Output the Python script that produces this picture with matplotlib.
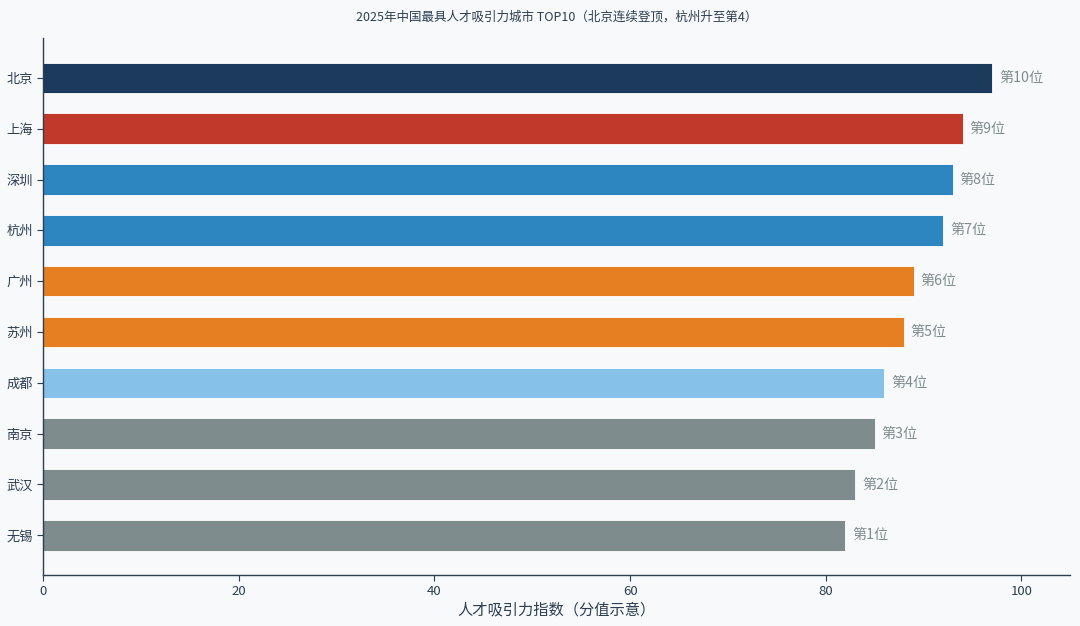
import matplotlib
matplotlib.use("Agg")
import matplotlib.pyplot as plt

plt.rcParams["font.family"] = ["Noto Sans CJK SC", "DejaVu Sans"]

cities = ["北京", "上海", "深圳", "杭州", "广州", "苏州", "成都", "南京", "武汉", "无锡"]
scores = [97, 94, 93, 92, 89, 88, 86, 85, 83, 82]
ranks = ["第10位", "第9位", "第8位", "第7位", "第6位", "第5位", "第4位", "第3位", "第2位", "第1位"]
colors = ["#1b3a5c", "#c0392b", "#2e86c1", "#2e86c1", "#e67e22",
          "#e67e22", "#85c1e9", "#7f8c8d", "#7f8c8d", "#7f8c8d"]

bg = "#f7f9fb"
fig = plt.figure(figsize=(10.8, 6.26), dpi=100, facecolor=bg)
ax = fig.add_axes([0.040, 0.0815, 0.951, 0.8575], facecolor=bg)

ypos = list(range(len(cities)))
ax.barh(ypos, scores, height=0.6, color=colors, edgecolor="white", linewidth=0.6)
ax.invert_yaxis()
ax.set_yticks(ypos)
ax.set_yticklabels(cities)
ax.set_xlim(0, 105)

for y, s, r in zip(ypos, scores, ranks):
    ax.text(s + 0.7, y, r, va="center", ha="left", fontsize=10.2, color="#7f8c8d")

ax.spines["top"].set_visible(False)
ax.spines["right"].set_visible(False)
for side in ("left", "bottom"):
    ax.spines[side].set_color("#2c3e50")
    ax.spines[side].set_linewidth(1.0)
ax.tick_params(axis="both", colors="#2c3e50", labelsize=9.5, length=4)

ax.set_xlabel("人才吸引力指数（分值示意）", fontsize=11, color="#2c3e50", labelpad=2)
ax.set_title("2025年中国最具人才吸引力城市 TOP10（北京连续登顶，杭州升至第4）",
             fontsize=9, color="#2c3e50", pad=13)

fig.savefig("out.png", dpi=100, facecolor=bg)
